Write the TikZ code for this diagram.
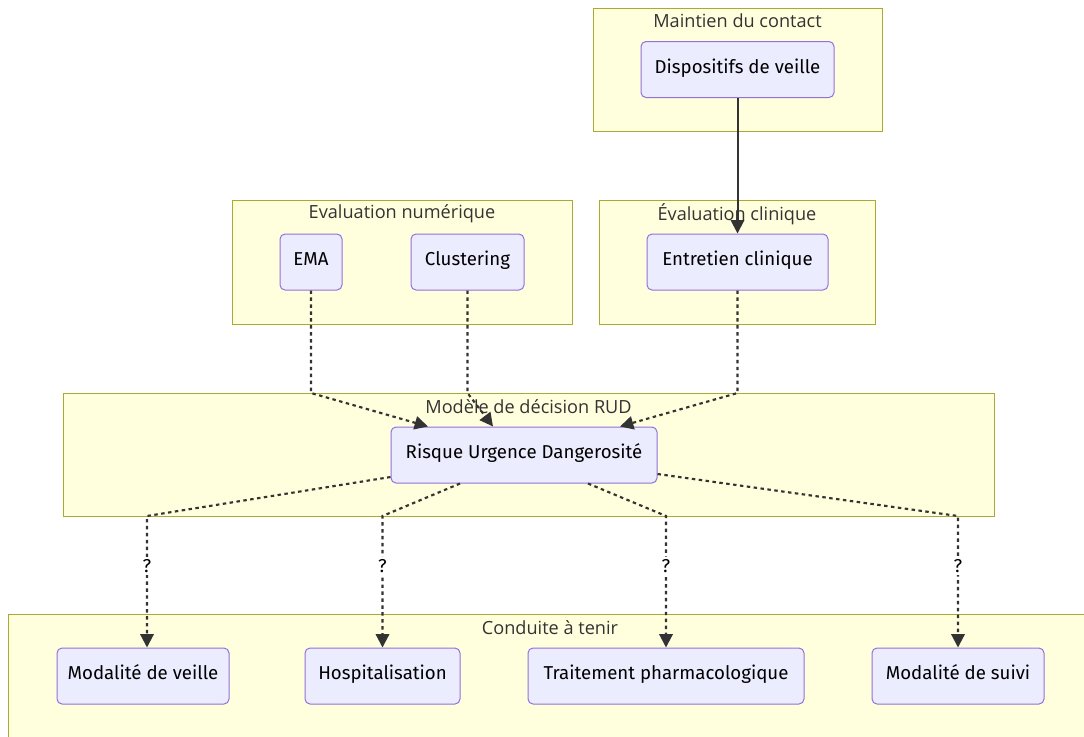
\documentclass[tikz,border=0pt]{standalone}
\usepackage{fontspec}
\setmainfont{Fira Sans}
\newfontfamily\titlefont{Open Sans}
\usetikzlibrary{arrows.meta,calc}
\definecolor{clusterfill}{HTML}{FFFFDE}
\definecolor{clusterline}{HTML}{AAAA33}
\definecolor{boxfill}{HTML}{ECECFF}
\definecolor{boxline}{HTML}{9370DB}
\definecolor{edgecol}{HTML}{333333}

\begin{document}
\begin{tikzpicture}[x=0.75pt, y=-0.75pt, >={Triangle[length=10pt,width=10pt]},
  cluster/.style={draw=clusterline, fill=clusterfill, line width=0.75pt},
  ctitle/.style={font=\titlefont\fontsize{13.6}{16}\selectfont, text=edgecol},
  box/.style={draw=boxline, fill=boxfill, line width=0.75pt, rounded corners=3.75pt,
              minimum height=42pt, inner sep=0pt, text height=0.55em, text depth=0pt,
              font=\fontsize{14}{16}\selectfont, text=black},
  solidline/.style={->, draw=edgecol, line width=1.5pt},
  dotline/.style={->, draw=edgecol, line width=1.6pt, dash pattern=on 2.6pt off 2.6pt},
  qlabel/.style={fill=white, inner sep=1.5pt, font=\fontsize{14}{16}\selectfont, text=black}]

  \useasboundingbox (0,0) rectangle (1084,736);

  % groups
  \draw[cluster] (593,8) rectangle (882,131);
  \node (tmc) at (737.5,21) [ctitle] {Maintien du contact};
  \draw[cluster] (232,200) rectangle (572,324);
  \node (ten) at (402,214) [ctitle] {Evaluation numérique};
  \draw[cluster] (599,200) rectangle (875,324);
  \node (tec) at (737,214) [ctitle] {Évaluation clinique};
  \draw[cluster] (63,393) rectangle (994,516);
  \node (trud) at (528.5,407) [ctitle] {Modèle de décision RUD};
  \draw[cluster] (8,614) rectangle (1092,760);
  \node (tct) at (550,628) [ctitle] {Conduite à tenir};
  \coordinate (rudtop) at (63,393);
  \coordinate (rudbot) at (63,516);

  \node (dv) at (737.5,69.5) [box, minimum width=144.75pt] {Dispositifs de veille};
  \node (ema) at (311,262) [box, minimum width=46.5pt] {EMA};
  \node (clu) at (467.5,262) [box, minimum width=84.75pt] {Clustering};
  \node (ent) at (737.5,262) [box, minimum width=135.75pt] {Entretien clinique};
  \node (rud) at (524,455) [box, minimum width=199.5pt] {Risque Urgence Dangerosité};
  \node (mv) at (143,676) [box, minimum width=129pt] {Modalité de veille};
  \node (hos) at (382.5,676) [box, minimum width=116.25pt] {Hospitalisation};
  \node (tp) at (666,676) [box, minimum width=207pt] {Traitement pharmacologique};
  \node (ms) at (958,676) [box, minimum width=129pt] {Modalité de suivi};

  \draw[solidline] (dv) -- (ent);

  \draw[dotline] (ema.south) -- (ema.south |- rudtop) -- ($(rud.north)+(-96,0)$);
  \draw[dotline] (clu.south) -- (clu.south |- rudtop) -- ($(rud.north)+(-31,0)$);
  \draw[dotline] (ent.south) -- (ent.south |- rudtop) -- ($(rud.north)+(96,0)$);

  \draw[dotline] ($(rud.west)+(0,22)$) -- ($(mv.north |- rudbot)+(4,0)$)
                 -- node[qlabel, pos=0.38] {?} ($(mv.north)+(4,0)$);
  \draw[dotline] ($(rud.south)+(-64,0)$) -- (hos.north |- rudbot)
                 -- node[qlabel, pos=0.38] {?} (hos.north);
  \draw[dotline] ($(rud.south)+(64,0)$) -- (tp.north |- rudbot)
                 -- node[qlabel, pos=0.38] {?} (tp.north);
  \draw[dotline] ($(rud.east)+(0,19)$) -- (ms.north |- rudbot)
                 -- node[qlabel, pos=0.38] {?} (ms.north);
\end{tikzpicture}
\end{document}
